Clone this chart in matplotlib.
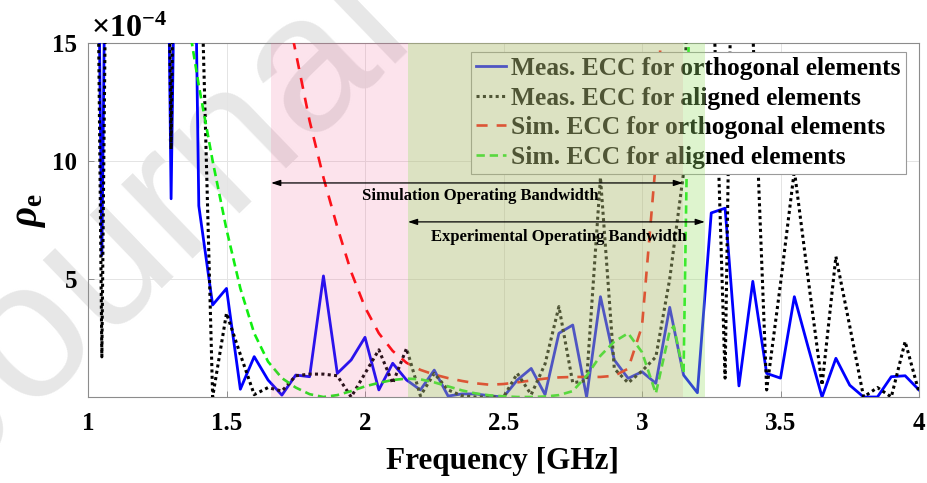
import matplotlib
matplotlib.use("Agg")
import matplotlib.pyplot as plt

# ---------------- data (values in units of 1e-4) ----------------
freq_meas = [1.00, 1.05, 1.10, 1.15, 1.20, 1.25, 1.30, 1.35, 1.40, 1.45,
             1.50, 1.55, 1.60, 1.65, 1.70, 1.75, 1.80, 1.85, 1.90, 1.95,
             2.00, 2.05, 2.10, 2.15, 2.20, 2.25, 2.30, 2.35, 2.40, 2.45,
             2.50, 2.55, 2.60, 2.65, 2.70, 2.75, 2.80, 2.85, 2.90, 2.95,
             3.00, 3.05, 3.10, 3.15, 3.20, 3.25, 3.30, 3.35, 3.40, 3.45,
             3.50, 3.55, 3.60, 3.65, 3.70, 3.75, 3.80, 3.85, 3.90, 3.95, 4.00]

meas_orth = [60, 6.0, 60, 60, 60, 60, 8.4, 50, 8.1, 3.9,
             4.6, 0.33, 1.71, 0.72, 0.08, 0.93, 0.86, 5.13, 1.0, 1.57,
             2.53, 0.3, 1.43, 0.72, 0.30, 1.14, 0.04, 0.13, 0.13, 0.05,
             0.0, 0.72, 1.21, 0.1, 2.7, 3.05, 0.0, 4.25, 1.57, 0.79,
             1.07, 0.58, 3.8, 0.93, 0.18, 7.8, 8.0, 0.47, 4.9, 1.0,
             0.8, 4.25, 2.1, 0.0, 1.64, 0.5, 0.0, 0.0, 0.86, 0.9, 0.3]

meas_align = [60, 1.7, 60, 60, 60, 60, 10.5, 60, 22, 0.0,
              3.55, 1.8, 0.1, 0.4, 0.25, 0.9, 0.97, 0.97, 0.9, 0.0,
              1.0, 2.0, 0.58, 2.06, 0.05, 1.0, 0.3, 0.05, 0.0, 0.0,
              0.0, 1.0, 0.1, 1.4, 3.83, 0.6, 0.7, 9.3, 1.2, 0.6,
              1.1, 1.7, 5.0, 9.5, 40, 20, 0.8, 40, 15.5, 0.3,
              4.8, 9.6, 5.0, 0.5, 5.95, 3.0, 0.0, 0.4, 0.0, 2.35, 0.2]

freq_sim_orth = [1.65, 1.70, 1.75, 1.80, 1.85, 1.90, 1.95, 2.00, 2.05, 2.10,
                 2.15, 2.20, 2.25, 2.30, 2.35, 2.40, 2.45, 2.50, 2.55, 2.60,
                 2.65, 2.70, 2.75, 2.80, 2.85, 2.90, 2.95, 3.00, 3.05, 3.10]
sim_orth = [22, 17.5, 14.6, 11.7, 9.3, 7.2, 5.3, 3.8, 2.7, 1.95,
            1.45, 1.15, 0.95, 0.8, 0.68, 0.58, 0.52, 0.55, 0.62, 0.7,
            0.78, 0.83, 0.85, 0.85, 0.85, 0.9, 1.2, 3.0, 10, 25]

freq_sim_align = [1.30, 1.35, 1.40, 1.45, 1.50, 1.55, 1.60, 1.65, 1.70, 1.75,
                  1.80, 1.85, 1.90, 1.95, 2.00, 2.05, 2.10, 2.15, 2.20, 2.25,
                  2.30, 2.35, 2.40, 2.45, 2.50, 2.55, 2.60, 2.65, 2.70, 2.75,
                  2.80, 2.85, 2.90, 2.95, 3.00, 3.05, 3.10, 3.115, 3.15, 3.175]
sim_align = [21, 16.8, 13.2, 10.0, 7.1, 4.6, 2.7, 1.5, 0.8, 0.4,
             0.12, 0.0, 0.08, 0.25, 0.45, 0.6, 0.72, 0.78, 0.75, 0.62,
             0.45, 0.28, 0.15, 0.07, 0.03, 0.0, 0.0, 0.02, 0.08, 0.25,
             0.9, 1.75, 2.35, 2.7, 1.9, 0.15, 2.8, 3.0, 1.0, 20]

series_labels = ["Meas. ECC for orthogonal elements",
                 "Meas. ECC for aligned elements",
                 "Sim. ECC for orthogonal elements",
                 "Sim. ECC for aligned elements"]

sim_band = [1.661, 3.148]
exp_band = [2.155, 3.227]
sim_arrow_y = 9.07
exp_arrow_y = 7.42
xticks = [1, 1.5, 2, 2.5, 3, 3.5, 4]
xtick_labels = ["1", "1.5", "2", "2.5", "3", "3.5", "4"]
yticks = [5, 10, 15]
ytick_labels = ["5", "10", "15"]

# ---------------- style ----------------
plt.rcParams['font.family'] = ['Liberation Serif', 'DejaVu Serif']
plt.rcParams['font.weight'] = 'bold'
plt.rcParams['mathtext.fontset'] = 'custom'
plt.rcParams['mathtext.rm'] = 'Liberation Serif:bold'
plt.rcParams['mathtext.it'] = 'Liberation Serif:italic:bold'
plt.rcParams['mathtext.bf'] = 'Liberation Serif:bold'
plt.rcParams['lines.scale_dashes'] = False

fig = plt.figure(figsize=(9.27, 4.83), dpi=100)
fig.patch.set_facecolor('white')

# watermark (behind everything)
fig.text(-0.045, -0.005, "Journal Pre-proof", rotation=44, rotation_mode='anchor',
         ha='left', va='baseline', fontsize=140, color='#e7e7e7',
         family='Liberation Sans', weight='normal', zorder=-5)

ax = fig.add_axes([88/927, 1-397/483, (919-88)/927, (397-43)/483])
ax.set_facecolor('none')

ax.plot(freq_meas, meas_orth, color='#0000ff', lw=2.0, zorder=3,
        label=series_labels[0])
ax.plot(freq_meas, meas_align, color='black', lw=2.2, ls=(0, (2.2, 2.4)),
        zorder=3.2, label=series_labels[1])
ax.plot(freq_sim_orth, sim_orth, color='#ff0000', lw=1.9, ls=(0, (8, 6.5)),
        zorder=3.1, label=series_labels[2])
ax.plot(freq_sim_align, sim_align, color='#11ee11', lw=1.9, ls=(0, (6, 3.5)),
        zorder=3.3, label=series_labels[3])

ax.set_xlim(1, 4)
ax.set_ylim(0, 15)
ax.set_xticks(xticks)
ax.set_xticklabels(xtick_labels)
ax.set_yticks(yticks)
ax.set_yticklabels(ytick_labels)
ax.tick_params(axis='both', direction='in', length=4, width=0.6,
               color='#808080', labelsize=18)
ax.tick_params(axis='x', pad=11)
ax.tick_params(axis='y', pad=8)
ax.grid(True, color='#e4e4e4', lw=0.7, zorder=0)
ax.set_axisbelow(True)
for s in ax.spines.values():
    s.set_color('#8c8c8c')
    s.set_linewidth(0.8)

leg = ax.legend(loc='upper right', bbox_to_anchor=((906-88)/831, (397-52)/354),
                borderaxespad=0, fontsize=18.4, frameon=True, fancybox=False,
                edgecolor='#9a9a9a', framealpha=1.0, handlelength=1.2,
                handletextpad=0.2, labelspacing=0.26, borderpad=0.2)
leg.get_frame().set_linewidth(0.8)
leg.set_zorder(5)

# shaded bands on top of lines and legend
ax.axvspan(sim_band[0], sim_band[1], color=(240/255, 100/255, 150/255),
           alpha=0.18, lw=0, zorder=6)
ax.axvspan(exp_band[0], exp_band[1], color=(155/255, 224/255, 109/255),
           alpha=0.33, lw=0, zorder=6.1)

# bandwidth arrows
arrow_kw = dict(arrowstyle='<|-|>,head_length=0.55,head_width=0.18',
                color='black', lw=0.9, shrinkA=0, shrinkB=0)
ax.annotate('', xy=(sim_band[0], sim_arrow_y), xytext=(sim_band[1], sim_arrow_y),
            arrowprops=arrow_kw, zorder=7)
ax.annotate('', xy=(exp_band[0], exp_arrow_y), xytext=(exp_band[1], exp_arrow_y),
            arrowprops=arrow_kw, zorder=7)
ax.text(2.415, 8.5, "Simulation Operating Bandwidth", ha='center', va='center',
        fontsize=12, zorder=7)
ax.text(2.70, 6.78, "Experimental Operating Bandwidth", ha='center', va='center',
        fontsize=12, zorder=7)

# exponent label
ax.text(3/831, 1 + 6/354, r'$\times\mathregular{10^{-4}}$', transform=ax.transAxes,
        ha='left', va='baseline', fontsize=23)

fig.text(30/927, 1-210/483, r'$\rho_{\mathrm{e}}$', rotation=90, ha='center',
         va='center', fontsize=28)
fig.text(503/927, 1-462/483, "Frequency [GHz]", ha='center', va='center',
         fontsize=22.5)

fig.savefig('out.png', dpi=100)
